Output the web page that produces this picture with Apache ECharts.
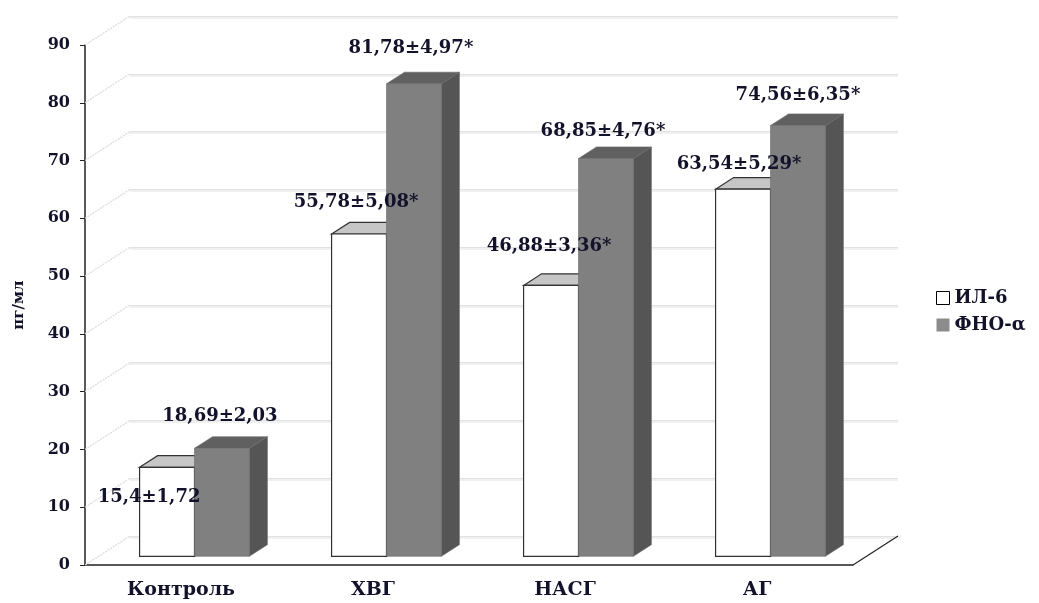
<!DOCTYPE html>
<html>
<head>
<meta charset="utf-8">
<script src="https://cdn.jsdelivr.net/npm/echarts@6/dist/echarts.min.js"></script>
<style>
  html, body { margin: 0; padding: 0; background: #ffffff; }
  #chart { width: 1039px; height: 603px; }
</style>
</head>
<body>
<div id="chart"></div>
<script>
// Cytokine levels by group
const categories = ['Контроль', 'ХВГ', 'НАСГ', 'АГ'];
const il6Mean = [15.4, 55.78, 46.88, 63.54];
const il6Err  = [1.72, 5.08, 3.36, 5.29];
const il6Sig  = [false, true, true, true];
const tnfMean = [18.69, 81.78, 68.85, 74.56];
const tnfErr  = [2.03, 4.97, 4.76, 6.35];
const tnfSig  = [false, true, true, true];
const yTicks  = [0, 10, 20, 30, 40, 50, 60, 70, 80, 90];
const seriesNames = ['ИЛ-6', 'ФНО-α'];

// perspective depth of the floor (px) and the bars' slice of it
const DEPTH = [45, -29];
const BAR_FRONT = 0.3, BAR_BACK = 0.7;
const BAR_BAND = 0.286;

// label nudges relative to the top edge of each bar's front face
const il6LabelShift = [[-18, 30], [-3, -32], [-2, -39], [-4, -25]];
const tnfLabelShift = [[-2, -32], [-3, -35], [-3, -27], [0, -30]];

const LABEL_FONT = 'bold 18px "DejaVu Serif"';
const TEXT_COLOR = '#12122a';

function fmt(n) { return String(n).replace('.', ','); }
function labelText(mean, err, sig) {
  return fmt(mean) + '±' + fmt(err) + (sig ? '*' : '');
}

// geometry of one bar's front face, shared by the bar and its label
function barBox(side, api) {
  const i = api.value(0);
  const v = api.value(1);
  const band = api.size([1, 0])[0];
  const w = band * BAR_BAND;
  const top = api.coord([i, v]);
  const base = api.coord([i, 0]);
  const fx = DEPTH[0] * BAR_FRONT, fy = DEPTH[1] * BAR_FRONT;
  const x0 = top[0] + fx - (side === 0 ? w : 0);
  return { x0: x0, x1: x0 + w, yt: top[1] + fy, yb: base[1] + fy };
}

function barRenderer(side, colors) {
  return function (params, api) {
    const b = barBox(side, api);
    const dx = DEPTH[0] * (BAR_BACK - BAR_FRONT), dy = DEPTH[1] * (BAR_BACK - BAR_FRONT);
    const x0 = b.x0, x1 = b.x1, yt = b.yt, yb = b.yb;
    const stroke = colors.stroke;
    const lw = colors.lineWidth;
    return {
      type: 'group',
      children: [
        {
          type: 'polygon',
          shape: { points: [[x1, yt], [x1 + dx, yt + dy], [x1 + dx, yb + dy], [x1, yb]] },
          style: { fill: colors.side, stroke: stroke, lineWidth: lw }
        },
        {
          type: 'polygon',
          shape: { points: [[x0, yt], [x0 + dx, yt + dy], [x1 + dx, yt + dy], [x1, yt]] },
          style: { fill: colors.top, stroke: stroke, lineWidth: lw }
        },
        {
          type: 'rect',
          shape: { x: x0, y: yt, width: w(x0, x1), height: yb - yt },
          style: { fill: colors.front, stroke: stroke, lineWidth: lw }
        }
      ]
    };
  };
}
function w(a, b) { return b - a; }

function labelRenderer(side, shifts, means, errs, sigs) {
  return function (params, api) {
    const b = barBox(side, api);
    const k = params.dataIndex;
    return {
      type: 'text',
      style: {
        text: labelText(means[k], errs[k], sigs[k]),
        x: (b.x0 + b.x1) / 2 + shifts[k][0],
        y: b.yt + shifts[k][1],
        align: 'center', verticalAlign: 'middle',
        font: LABEL_FONT,
        fill: TEXT_COLOR
      }
    };
  };
}

// diagonal edges of the left wall and the right end of the floor
function frameRenderer(params, api) {
  const v = api.value(1);
  const band = api.size([1, 0])[0];
  const p = api.coord([0, v]);
  const xl = p[0] - band / 2;
  const children = [{
    type: 'line',
    shape: { x1: xl, y1: p[1], x2: xl + DEPTH[0], y2: p[1] + DEPTH[1] },
    style: { stroke: '#dadada', lineWidth: 1.2, lineDash: [2, 1] }
  }];
  if (v === 0) {
    const q = api.coord([categories.length - 1, 0]);
    const xr = q[0] + band / 2;
    children.push({
      type: 'line',
      shape: { x1: xr, y1: q[1], x2: xr + DEPTH[0], y2: q[1] + DEPTH[1] },
      style: { stroke: '#222', lineWidth: 1.2 }
    });
  }
  return { type: 'group', children: children };
}

const chart = echarts.init(document.getElementById('chart'), null, { renderer: 'canvas' });

const whiteColors = { front: '#ffffff', top: '#c6c6c6', side: '#9a9a9a', stroke: '#333333', lineWidth: 1.2 };
const grayColors  = { front: '#808080', top: '#606060', side: '#555555', stroke: '#6a6a6a', lineWidth: 0.6 };

const il6Data = il6Mean.map(function (v, i) { return [i, v]; });
const tnfData = tnfMean.map(function (v, i) { return [i, v]; });

chart.setOption({
  animation: false,
  backgroundColor: '#ffffff',
  grid: [
    { left: 85, top: 45, width: 768, height: 520 },
    { left: 85 + DEPTH[0], top: 45 + DEPTH[1], width: 768, height: 520 }
  ],
  legend: {
    orient: 'vertical',
    left: 931,
    top: 284,
    itemGap: 9,
    itemWidth: 13,
    itemHeight: 13,
    icon: 'rect',
    textStyle: { fontFamily: 'DejaVu Serif', fontWeight: 'bold', fontSize: 18, color: TEXT_COLOR },
    data: [
      { name: seriesNames[0], itemStyle: { color: '#ffffff', borderColor: '#000000', borderWidth: 1 } },
      { name: seriesNames[1], itemStyle: { color: '#8c8c8c', borderWidth: 0 } }
    ]
  },
  xAxis: [
    {
      type: 'category', gridIndex: 0, data: categories,
      axisLine: { show: true, lineStyle: { color: '#222', width: 1.5 } },
      axisTick: { show: false },
      axisLabel: { margin: 16, color: TEXT_COLOR, fontFamily: 'DejaVu Serif', fontWeight: 'bold', fontSize: 19 },
      splitLine: { show: false }
    },
    { type: 'category', gridIndex: 1, data: categories, show: false }
  ],
  yAxis: [
    {
      type: 'value', gridIndex: 0, min: 0, max: 90, interval: 10,
      name: 'пг/мл', nameLocation: 'middle', nameGap: 58, nameRotate: 90,
      nameTextStyle: { color: TEXT_COLOR, fontFamily: 'DejaVu Serif', fontWeight: 'bold', fontSize: 15 },
      axisLine: { show: true, lineStyle: { color: '#222', width: 1.5 } },
      axisTick: { show: true, length: 5, lineStyle: { color: '#222' } },
      axisLabel: { margin: 15, color: TEXT_COLOR, fontFamily: 'DejaVu Serif', fontWeight: 'bold', fontSize: 16 },
      splitLine: { show: false }
    },
    {
      type: 'value', gridIndex: 1, min: 0, max: 90, interval: 10,
      axisLine: { show: false }, axisTick: { show: false }, axisLabel: { show: false },
      splitLine: { show: true, lineStyle: { color: '#e2e2e2', width: 1.2, shadowColor: 'rgba(0,0,0,0.12)', shadowOffsetY: 1.5, shadowBlur: 0 } }
    }
  ],
  series: [
    {
      type: 'custom', name: 'frame', xAxisIndex: 0, yAxisIndex: 0, z: 1, silent: true,
      renderItem: frameRenderer,
      encode: { x: 0, y: 1 },
      data: yTicks.map(function (v) { return [0, v]; })
    },
    {
      type: 'custom', name: seriesNames[0], xAxisIndex: 0, yAxisIndex: 0, z: 3,
      itemStyle: { color: '#ffffff', borderColor: '#000' },
      renderItem: barRenderer(0, whiteColors),
      encode: { x: 0, y: 1 },
      data: il6Data
    },
    {
      type: 'custom', name: seriesNames[1], xAxisIndex: 0, yAxisIndex: 0, z: 4,
      itemStyle: { color: '#8c8c8c' },
      renderItem: barRenderer(1, grayColors),
      encode: { x: 0, y: 1 },
      data: tnfData
    },
    {
      type: 'custom', name: 'il6-labels', xAxisIndex: 0, yAxisIndex: 0, z: 10, silent: true,
      renderItem: labelRenderer(0, il6LabelShift, il6Mean, il6Err, il6Sig),
      encode: { x: 0, y: 1 },
      data: il6Data
    },
    {
      type: 'custom', name: 'tnf-labels', xAxisIndex: 0, yAxisIndex: 0, z: 10, silent: true,
      renderItem: labelRenderer(1, tnfLabelShift, tnfMean, tnfErr, tnfSig),
      encode: { x: 0, y: 1 },
      data: tnfData
    }
  ]
});
</script>
</body>
</html>
